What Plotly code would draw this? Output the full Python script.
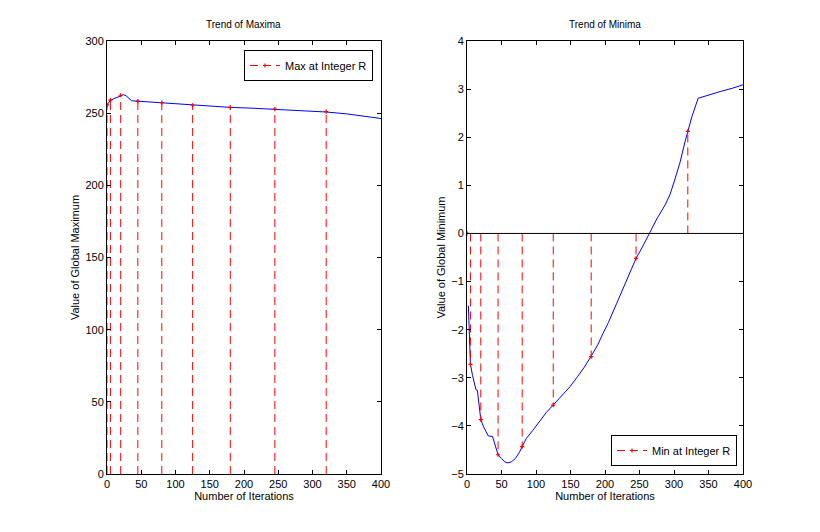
import plotly.graph_objects as go

### stem positions (integer R)
stem_x = [0, 5, 20, 45, 80, 125, 180, 245, 320]
max_at_r = [255.7, 259, 262.4, 258.3, 257.3, 255.5, 254.0, 252.8, 251.0]
min_at_r = [0, -2.72, -3.87, -4.60, -4.43, -3.57, -2.56, -0.52, 2.12]

### continuous trend of maxima
max_x = [0, 3, 5, 10, 15, 20, 24, 28, 32, 36, 45, 60, 80, 100, 125, 150, 180,
         210, 245, 280, 320, 350, 375, 400]
max_y = [255.7, 257.5, 259, 260, 261, 262.3, 262.8, 262, 260, 258.6, 258.3,
         257.8, 257.3, 256.5, 255.5, 254.6, 254, 253.5, 252.8, 252, 250.8,
         249.5, 248, 246.3]

### continuous trend of minima
min_x = [2, 3, 5, 8, 10, 13, 15, 17, 20, 24, 28, 31, 37, 40, 45, 50, 55, 59,
         64, 70, 76, 80, 86, 95, 106, 115, 126, 137, 149, 160, 170, 180, 190,
         197, 205, 217, 230, 245, 255, 264, 275, 287, 294, 301, 309, 316, 320,
         326, 335, 350, 367, 385, 400]
min_y = [-1.5, -2.1, -2.72, -2.95, -3.08, -3.25, -3.26, -3.5, -3.87, -4.02,
         -4.12, -4.21, -4.22, -4.35, -4.6, -4.68, -4.75, -4.77, -4.75, -4.68,
         -4.55, -4.43, -4.26, -4.1, -3.88, -3.72, -3.55, -3.38, -3.19, -2.98,
         -2.78, -2.55, -2.3, -2.08, -1.85, -1.45, -1.0, -0.52, -0.26, 0.0,
         0.3, 0.59, 0.8, 1.11, 1.49, 1.91, 2.12, 2.43, 2.81, 2.88, 2.95, 3.02,
         3.09]

RED = "rgb(255,0,0)"
BLUE = "rgb(0,0,255)"
FONT = "Liberation Sans, Arial, sans-serif"
DASH = "8px,5px"
MARK = dict(color=RED, size=3, symbol="cross-thin", line=dict(color=RED, width=1.2))

### page has an 8px body margin, so the figure is placed in an 812x524 frame
W, H, OFF = 812, 524, 8


def px_x(p):
    return (p - OFF) / W


def px_y(p):
    return (H - (p - OFF)) / H


def stem_lines(xs, ys):
    sx, sy = [], []
    for x, y in zip(xs, ys):
        sx += [x, x, None]
        sy += [0, y, None]
    return sx, sy


fig = go.Figure()

### left: maxima
sx, sy = stem_lines(stem_x, max_at_r)
fig.add_trace(go.Scatter(x=max_x, y=max_y, mode="lines", line=dict(color=BLUE, width=1),
                         showlegend=False, xaxis="x", yaxis="y"))
fig.add_trace(go.Scatter(x=sx, y=sy, mode="lines", line=dict(color=RED, width=1, dash=DASH),
                         showlegend=False, xaxis="x", yaxis="y"))
fig.add_trace(go.Scatter(x=stem_x, y=max_at_r, mode="markers", marker=MARK,
                         showlegend=False, xaxis="x", yaxis="y"))
fig.add_trace(go.Scatter(x=[None], y=[None], mode="lines+markers", name="Max at Integer R",
                         line=dict(color=RED, width=1, dash=DASH), marker=MARK,
                         xaxis="x", yaxis="y", legend="legend"))

### right: minima
sx, sy = stem_lines(stem_x, min_at_r)
fig.add_trace(go.Scatter(x=min_x, y=min_y, mode="lines", line=dict(color=BLUE, width=1),
                         showlegend=False, xaxis="x2", yaxis="y2"))
fig.add_trace(go.Scatter(x=sx, y=sy, mode="lines", line=dict(color=RED, width=1, dash=DASH),
                         showlegend=False, xaxis="x2", yaxis="y2"))
fig.add_trace(go.Scatter(x=stem_x, y=min_at_r, mode="markers", marker=MARK,
                         showlegend=False, xaxis="x2", yaxis="y2"))
fig.add_trace(go.Scatter(x=[None], y=[None], mode="lines+markers", name="Min at Integer R",
                         line=dict(color=RED, width=1, dash=DASH), marker=MARK,
                         xaxis="x2", yaxis="y2", legend="legend2"))

axis_style = dict(showline=True, linecolor="black", linewidth=1, mirror="ticks",
                  ticks="inside", ticklen=4, tickcolor="black", showgrid=False,
                  zeroline=False, automargin=False,
                  tickfont=dict(size=11, color="black"),
                  title_font=dict(size=11, color="black"))

y_dom = [px_y(474), px_y(41)]
fig.update_layout(
    width=W, height=H,
    paper_bgcolor="white", plot_bgcolor="white",
    font=dict(family=FONT, size=11, color="black"),
    margin=dict(l=0, r=0, t=0, b=0, autoexpand=False),
    xaxis=dict(domain=[px_x(107), px_x(381)], range=[0, 400], dtick=50,
               title=dict(text="Number of Iterations", standoff=1), anchor="y", **axis_style),
    yaxis=dict(domain=y_dom, range=[0, 300], dtick=50,
               title=dict(text="Value of Global Maximum", standoff=3), anchor="x", **axis_style),
    xaxis2=dict(domain=[px_x(467), px_x(743)], range=[0, 400], dtick=50,
                title=dict(text="Number of Iterations", standoff=1), anchor="y2", **axis_style),
    yaxis2=dict(domain=y_dom, range=[-5, 4], dtick=1,
                title=dict(text="Value of Global Minimum", standoff=3), anchor="x2", **axis_style),
    legend=dict(x=px_x(373), y=px_y(50), xanchor="right", yanchor="top",
                bgcolor="white", bordercolor="black", borderwidth=1,
                font=dict(size=11), itemwidth=30, tracegroupgap=0),
    legend2=dict(x=px_x(737), y=px_y(466), xanchor="right", yanchor="bottom",
                 bgcolor="white", bordercolor="black", borderwidth=1,
                 font=dict(size=11), itemwidth=30, tracegroupgap=0),
    annotations=[
        dict(text="Trend of Maxima", x=px_x(244), y=px_y(24), xref="paper", yref="paper",
             xanchor="center", yanchor="middle", showarrow=False, font=dict(size=10)),
        dict(text="Trend of Minima", x=px_x(605), y=px_y(24), xref="paper", yref="paper",
             xanchor="center", yanchor="middle", showarrow=False, font=dict(size=10)),
    ],
    shapes=[
        dict(type="line", xref="x2", yref="y2", x0=0, x1=400, y0=0, y1=0,
             line=dict(color="black", width=1)),
    ],
)

fig.write_html("out.html")
